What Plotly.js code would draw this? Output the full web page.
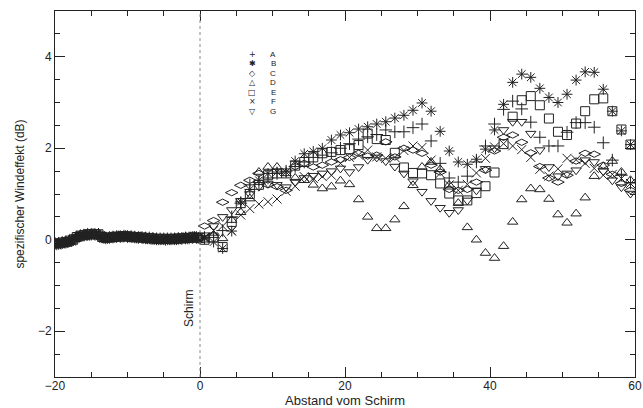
<!DOCTYPE html>
<html><head><meta charset="utf-8">
<script src="https://cdn.plot.ly/plotly-3.0.1.min.js"></script>
<style>html,body{margin:0;padding:0;background:#fff}#chart{width:643px;height:408px}</style>
</head><body><div id="chart"></div>
<script>
// ---- data ----
const seriesNames = ["A","B","C","D","E","F","G"];
const xNegA = [-20,-19.5,-19,-18.5,-18,-17.5,-17,-16.5,-16,-15.5,-15,-14.5,-14,-13.5,-13,-12.5,-12,-11.5,-11,-10.5,-10,-9.5,-9,-8.5,-8,-7.5,-7,-6.5,-6,-5.5,-5,-4.5,-4,-3.5,-3,-2.5,-2,-1.5,-1,-0.5,0];
const negA = [-0.08,-0.08,-0.06,-0.05,-0.02,0.0,0.06,0.09,0.10,0.12,0.12,0.12,0.12,0.06,0.04,0.05,0.06,0.07,0.07,0.08,0.07,0.07,0.06,0.05,0.05,0.04,0.04,0.03,0.02,0.02,0.02,0.02,0.02,0.02,0.03,0.03,0.04,0.04,0.05,0.05,0.04];
const xNegB = [-19.75,-19.25,-18.75,-18.25,-17.75,-17.25,-16.75,-16.25,-15.75,-15.25,-14.75,-14.25,-13.75,-13.25,-12.75,-12.25,-11.75,-11.25,-10.75,-10.25,-9.75,-9.25,-8.75,-8.25,-7.75,-7.25,-6.75,-6.25,-5.75,-5.25,-4.75,-4.25,-3.75,-3.25,-2.75,-2.25,-1.75,-1.25,-0.75,-0.25];
const negB = [-0.11,-0.09,-0.07,-0.06,-0.03,0.03,0.07,0.08,0.11,0.10,0.13,0.11,0.09,0.03,0.03,0.06,0.05,0.08,0.06,0.09,0.06,0.05,0.04,0.06,0.03,0.02,0.01,0.01,0.0,0.01,-0.01,0.0,0.01,0.0,0.02,0.04,0.02,0.06,0.07,0.03];
const xPos = [0.625,1.875,3.125,4.375,5.625,6.875,8.125,9.375,10.625,11.875,13.125,14.375,15.625,16.875,18.125,19.375,20.625,21.875,23.125,24.375,25.625,26.875,28.125,29.375,30.625,31.875,33.125,34.375,35.625,36.875,38.125,39.375,40.625,41.875,43.125,44.375,45.625,46.875,48.125,49.375,50.625,51.875,53.125,54.375,55.625,56.875,58.125,59.375];
const posA = [0.05,0.10,0.20,0.50,0.80,1.20,1.25,1.35,1.45,1.50,1.60,1.70,1.80,1.85,1.90,2.00,2.10,2.20,2.25,2.30,2.40,2.36,2.36,2.45,2.53,2.16,1.67,1.35,1.26,1.39,1.70,2.05,2.53,2.85,3.03,2.86,2.57,2.24,2.05,2.05,2.35,2.56,2.56,2.46,2.12,1.74,1.41,1.24];
const posB = [0.02,-0.05,-0.19,0.19,0.83,1.10,1.30,1.45,1.48,1.48,1.72,1.88,1.93,2.00,2.18,2.29,2.34,2.42,2.47,2.53,2.58,2.66,2.72,2.83,2.99,2.81,2.37,1.94,1.70,1.65,1.76,1.98,2.40,2.96,3.44,3.62,3.55,3.31,3.11,3.00,3.18,3.49,3.67,3.66,3.29,2.81,2.38,2.08];
const posC = [0.30,0.42,0.82,1.03,1.19,1.30,1.45,1.20,1.16,1.08,1.60,1.67,1.59,1.63,1.70,1.75,1.80,1.89,1.83,1.85,2.14,1.81,2.00,1.96,1.89,1.63,1.48,1.10,1.08,1.10,1.26,1.52,1.94,2.24,2.29,2.13,1.90,1.60,1.35,1.26,1.41,1.72,1.89,1.87,1.63,1.43,1.23,1.08];
const posD = [0.00,0.10,0.03,0.43,0.60,0.90,1.48,1.59,1.59,1.45,1.35,1.30,1.20,1.12,1.16,1.29,1.21,0.88,0.50,0.25,0.25,0.44,0.73,1.19,1.59,1.70,1.54,1.20,0.80,0.27,0.00,-0.29,-0.40,-0.14,0.39,0.88,1.12,1.10,0.89,0.55,0.37,0.57,0.92,1.39,1.60,1.72,1.48,1.30];
const posE = [0.00,0.05,-0.16,0.39,0.80,1.00,1.20,1.41,1.45,1.45,1.62,1.70,1.80,1.89,1.92,1.96,1.98,2.07,2.32,2.20,2.18,1.90,1.58,1.46,1.45,1.41,1.23,1.01,0.86,0.86,1.02,1.17,1.47,2.09,2.69,3.05,3.14,2.94,2.65,2.36,2.29,2.54,2.81,3.07,3.09,2.81,2.41,2.08];
const posF = [0.05,0.20,0.30,0.19,0.54,0.68,0.78,0.83,0.89,1.06,1.17,1.38,1.34,1.38,1.41,1.67,1.80,1.85,1.96,1.81,1.78,1.80,1.95,2.05,2.02,1.74,1.45,1.20,1.08,1.21,1.46,1.78,2.03,2.10,2.05,1.97,1.80,1.54,1.39,1.55,1.78,1.75,1.67,1.56,1.41,1.43,1.34,1.23];
const posG = [0.10,0.30,0.50,0.65,0.85,1.00,1.16,1.23,1.20,1.15,1.27,1.35,1.40,1.45,1.50,1.56,1.48,1.59,1.75,1.80,1.72,1.60,1.45,1.28,1.05,0.85,0.70,0.59,0.65,0.86,1.08,1.55,2.00,2.40,2.58,2.58,2.32,1.96,1.59,1.39,1.45,1.52,1.74,1.70,1.50,1.30,1.15,1.01];
const xTicks = [-20,0,20,40,60];
const yTicks = [-2,0,2,4];

// ---- styling ----
const symbols = ["cross-thin-open","asterisk-open","diamond-wide-open","triangle-up-open","square-open","x-thin-open","triangle-down-open"];
const keyGlyphs = ["+","\u2731","\u25C7","\u25B3","\u25A1","\u00D7","\u25BD"];
const posData = [posA,posB,posC,posD,posE,posF,posG];
const useNegA = [true,false,true,false,true,false,true];
const ink = "#222";

const traces = seriesNames.map((n,i)=>{
  const nx = useNegA[i] ? xNegA : xNegB;
  const ny = useNegA[i] ? negA : negB;
  return {
    type:"scatter", mode:"markers", name:n,
    x: nx.concat(xPos), y: ny.concat(posData[i]),
    marker:{symbol:symbols[i], size:9, color:ink, line:{color:ink,width:1}},
    showlegend:false, hoverinfo:"skip"
  };
});

const font = {family:"Liberation Sans, Arial, Helvetica, sans-serif", color:"#222"};
const annotations = [];
seriesNames.forEach((n,i)=>{
  const yp = 0.8825 - i*0.0260;
  annotations.push({xref:"paper",yref:"paper",x:0.376,y:yp,text:n,showarrow:false,
    borderpad:0, xanchor:"center",yanchor:"middle",font:Object.assign({},font,{size:8})});
  annotations.push({xref:"paper",yref:"paper",x:0.340,y:yp,text:keyGlyphs[i],showarrow:false,
    borderpad:0, xanchor:"center",yanchor:"middle",font:{family:"DejaVu Sans",size:8,color:ink}});
});
annotations.push({xref:"x",yref:"paper",x:0,y:0.186,text:"Schirm",textangle:-90,showarrow:false,
  xanchor:"right",yanchor:"middle",xshift:-2,font:Object.assign({},font,{size:12})});

const axBase = {showline:true, linecolor:ink, linewidth:1, mirror:"ticks", ticks:"inside",
  ticklen:10, tickcolor:ink, tickwidth:1, showgrid:false, zeroline:false,
  tickfont:Object.assign({},font,{size:12})};

const layout = {
  width:643, height:408,
  margin:{l:55, r:8, t:11, b:31},
  paper_bgcolor:"#fff", plot_bgcolor:"#fff",
  font:font,
  xaxis:Object.assign({}, axBase, {range:[-20,60], tickvals:xTicks, ticklabelstandoff:-2,
    minor:{dtick:5, ticks:"inside", ticklen:5, tickcolor:ink, showgrid:false},
    title:{text:"Abstand vom Schirm", font:Object.assign({},font,{size:13}), standoff:3}}),
  yaxis:Object.assign({}, axBase, {range:[-3,5], tickvals:yTicks,
    minor:{dtick:0.5, ticks:"inside", ticklen:5, tickcolor:ink, showgrid:false},
    title:{text:"spezifischer Windeffekt (dB)", font:Object.assign({},font,{size:12}), standoff:10}}),
  shapes:[{type:"line", xref:"x", yref:"paper", x0:0, x1:0, y0:0, y1:1,
    line:{color:"#888", width:1, dash:"dot"}}],
  annotations:annotations
};

Plotly.newPlot("chart", traces, layout, {displayModeBar:false, staticPlot:true});
</script></body></html>
